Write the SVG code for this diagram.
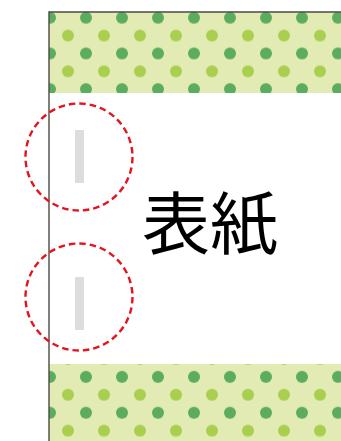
<svg xmlns="http://www.w3.org/2000/svg" width="341" height="441" viewBox="0 0 341 441">
<style>
.dk{fill:#5bac5f}.lt{fill:#a9cf4f}.bg{fill:#e2ebb4}
.ring{fill:none;stroke:#e6121e;stroke-width:2.4;stroke-dasharray:6.5 4}
.bar{fill:#dcdddd}
.edge{stroke:#4d4843;stroke-width:1.4;fill:none}
</style>
<defs>
<pattern id="pTop" patternUnits="userSpaceOnUse" x="32" y="-0.1" width="36" height="35.7">
<rect class="bg" width="36" height="35.7"/>
<circle class="dk" cx="18" cy="17.8" r="6"/>
<circle class="lt" cx="0" cy="0" r="6"/><circle class="lt" cx="36" cy="0" r="6"/>
<circle class="lt" cx="0" cy="35.7" r="6"/><circle class="lt" cx="36" cy="35.7" r="6"/>
</pattern>
<pattern id="pBot" patternUnits="userSpaceOnUse" x="32" y="358.9" width="36" height="35.9">
<rect class="bg" width="36" height="35.9"/>
<circle class="dk" cx="18" cy="17.9" r="6"/>
<circle class="lt" cx="0" cy="0" r="6"/><circle class="lt" cx="36" cy="0" r="6"/>
<circle class="lt" cx="0" cy="35.9" r="6"/><circle class="lt" cx="36" cy="35.9" r="6"/>
</pattern>
</defs>
<rect width="341" height="441" fill="#fff"/>
<g id="top-band">
<rect x="49" y="12" width="292" height="81" fill="url(#pTop)"/>
<line class="edge" x1="49" y1="12" x2="341" y2="12"/>
</g>
<g id="bottom-band">
<rect x="49" y="364" width="292" height="77" fill="url(#pBot)"/>
</g>
<g id="spine">
<line class="edge" x1="49" y1="11.3" x2="49" y2="441"/>
</g>
<g id="title">
<text x="210" y="249" font-family="'Noto Sans CJK JP','Noto Sans CJK SC',sans-serif" font-size="68" text-anchor="middle" fill="#000">表紙</text>
</g>
<g id="hole-1">
<rect class="bar" x="75" y="130" width="9" height="53"/>
<circle class="ring" cx="79" cy="157" r="53.5"/>
</g>
<g id="hole-2">
<rect class="bar" x="75" y="277" width="9" height="53"/>
<circle class="ring" cx="79" cy="297" r="53.5"/>
</g>
</svg>
